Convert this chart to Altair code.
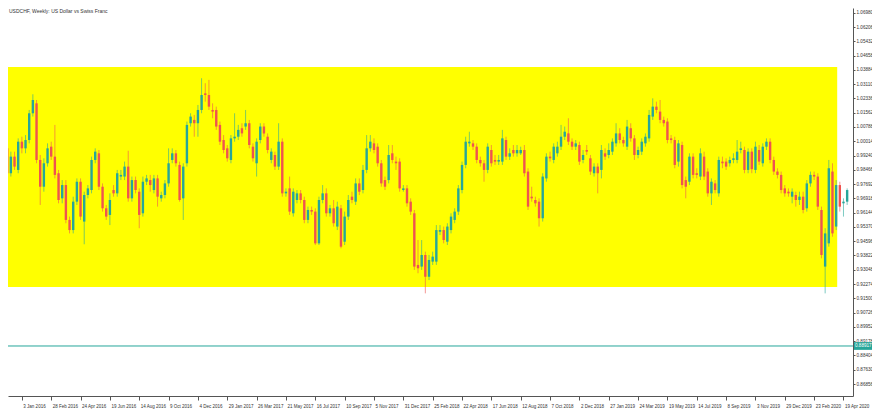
import altair as alt
import pandas as pd

# ---------------- data (weekly USDCHF candles) ----------------
FIRST_WEEK = "2015-12-06"

OPEN = [0.9963,0.9828,0.9918,0.9846,0.9999,0.9963,1.0008,1.0153,1.0207,0.9900,
        0.9755,0.9882,0.9972,0.9918,0.9828,0.9692,0.9764,0.9575,0.9520,0.9674,
        0.9782,0.9566,0.9710,0.9737,0.9900,0.9936,0.9755,0.9638,0.9602,0.9737,
        0.9719,0.9810,0.9810,0.9864,0.9692,0.9791,0.9728,0.9611,0.9782,0.9791,
        0.9737,0.9800,0.9692,0.9710,0.9773,0.9900,0.9936,0.9873,0.9692,0.9882,
        1.0099,1.0117,1.0099,1.0171,1.0261,1.0252,1.0171,1.0171,1.0090,1.0008,
        0.9963,0.9900,1.0017,1.0026,1.0072,1.0081,1.0099,0.9972,0.9882,1.0008,
        1.0081,1.0026,0.9900,0.9927,0.9864,0.9999,0.9719,0.9746,0.9611,0.9683,
        0.9719,0.9683,0.9575,0.9629,0.9620,0.9448,0.9683,0.9719,0.9611,0.9638,
        0.9539,0.9638,0.9457,0.9593,0.9701,0.9674,0.9773,0.9737,0.9846,0.9963,
        0.9990,0.9972,0.9882,0.9791,0.9791,0.9936,0.9891,0.9891,0.9737,0.9746,
        0.9674,0.9611,0.9331,0.9322,0.9385,0.9267,0.9349,0.9349,0.9511,0.9520,
        0.9457,0.9520,0.9575,0.9620,0.9737,0.9873,0.9990,0.9990,0.9972,0.9900,
        0.9882,0.9846,0.9954,0.9900,0.9891,0.9891,1.0008,0.9918,0.9954,0.9936,
        0.9936,0.9954,0.9837,0.9701,0.9683,0.9674,0.9584,0.9800,0.9918,0.9900,
        0.9936,0.9972,1.0026,1.0044,0.9999,0.9972,0.9981,0.9900,0.9954,0.9909,
        0.9828,0.9864,0.9846,0.9936,0.9927,0.9945,0.9990,1.0044,1.0008,0.9972,
        1.0072,1.0017,0.9927,0.9945,0.9990,1.0017,1.0135,1.0189,1.0162,1.0117,
        1.0108,1.0017,1.0008,0.9891,0.9981,0.9791,0.9782,0.9918,0.9828,0.9810,
        0.9918,0.9837,0.9719,0.9773,0.9719,0.9891,0.9891,0.9882,0.9900,0.9900,
        0.9954,0.9954,0.9846,0.9945,0.9846,0.9954,0.9882,0.9972,0.9999,0.9900,
        0.9837,0.9819,0.9746,0.9728,0.9701,0.9710,0.9683,0.9701,0.9638,0.9773,
        0.9819,0.9810,0.9629,0.9322,0.9448,0.9837,0.9539,0.9764,0.9665,0.9674]

HIGH = [0.9981,0.9945,0.9945,1.0017,1.0026,1.0035,1.0171,1.0256,1.0225,0.9927,
        0.9909,0.9990,0.9999,1.0090,0.9846,0.9791,0.9791,0.9593,0.9701,0.9800,
        0.9800,0.9728,0.9764,0.9918,0.9963,0.9954,0.9773,0.9656,0.9719,0.9764,
        0.9846,0.9846,0.9891,0.9950,0.9810,0.9810,0.9746,0.9810,0.9819,0.9819,
        0.9819,0.9819,0.9728,0.9791,0.9963,0.9963,0.9954,0.9891,0.9882,1.0108,
        1.0153,1.0144,1.0198,1.0343,1.0316,1.0334,1.0207,1.0189,1.0108,1.0035,
        0.9981,1.0035,1.0153,1.0090,1.0099,1.0171,1.0117,0.9990,1.0017,1.0099,
        1.0099,1.0044,0.9963,0.9945,1.0099,1.0017,0.9746,0.9810,0.9746,0.9737,
        0.9737,0.9701,0.9647,0.9647,0.9638,0.9701,0.9764,0.9746,0.9656,0.9683,
        0.9674,0.9656,0.9620,0.9710,0.9728,0.9800,0.9800,0.9873,1.0035,1.0035,
        1.0017,0.9990,0.9900,0.9810,0.9981,0.9981,0.9918,0.9909,0.9764,0.9764,
        0.9692,0.9629,0.9466,0.9466,0.9403,0.9385,0.9403,0.9547,0.9547,0.9539,
        0.9557,0.9611,0.9638,0.9764,0.9891,1.0026,1.0053,1.0008,0.9990,0.9918,
        0.9900,0.9990,0.9981,0.9927,0.9927,1.0063,1.0026,0.9963,0.9981,0.9981,
        0.9972,0.9981,0.9855,0.9755,0.9701,0.9692,0.9828,0.9936,0.9945,0.9990,
        0.9999,1.0090,1.0081,1.0126,1.0017,1.0008,0.9999,0.9954,0.9981,0.9927,
        0.9882,0.9882,0.9981,0.9963,0.9990,1.0017,1.0099,1.0072,1.0026,1.0117,
        1.0099,1.0035,0.9972,1.0017,1.0044,1.0171,1.0234,1.0216,1.0225,1.0135,
        1.0126,1.0035,1.0026,1.0008,0.9999,0.9810,0.9936,0.9936,0.9855,0.9963,
        0.9945,0.9855,0.9800,0.9791,0.9918,0.9918,0.9909,0.9918,0.9936,1.0008,
        0.9999,0.9972,0.9963,0.9963,0.9999,0.9981,0.9990,1.0017,1.0017,0.9918,
        0.9855,0.9837,0.9764,0.9746,0.9746,0.9728,0.9728,0.9728,0.9791,0.9837,
        0.9837,0.9828,0.9647,0.9530,0.9900,0.9882,0.9791,0.9782,0.9692,0.9746]

LOW = [0.9810,0.9810,0.9846,0.9828,0.9936,0.9936,0.9990,1.0135,0.9882,0.9656,
       0.9728,0.9864,0.9900,0.9800,0.9665,0.9665,0.9557,0.9502,0.9502,0.9656,
       0.9575,0.9443,0.9692,0.9719,0.9882,0.9737,0.9620,0.9575,0.9547,0.9701,
       0.9701,0.9791,0.9791,0.9674,0.9674,0.9719,0.9530,0.9593,0.9764,0.9728,
       0.9719,0.9647,0.9674,0.9692,0.9755,0.9882,0.9864,0.9674,0.9575,0.9864,
       1.0081,1.0026,1.0026,1.0153,1.0216,1.0171,1.0126,1.0063,0.9981,0.9936,
       0.9891,0.9882,0.9999,1.0008,1.0026,1.0063,0.9963,0.9891,0.9810,0.9990,
       1.0026,0.9936,0.9882,0.9846,0.9846,0.9701,0.9701,0.9602,0.9593,0.9665,
       0.9665,0.9557,0.9557,0.9602,0.9439,0.9439,0.9665,0.9593,0.9593,0.9539,
       0.9520,0.9421,0.9439,0.9575,0.9665,0.9656,0.9710,0.9719,0.9828,0.9945,
       0.9936,0.9864,0.9755,0.9737,0.9773,0.9882,0.9846,0.9728,0.9728,0.9647,
       0.9602,0.9304,0.9286,0.9304,0.9177,0.9249,0.9331,0.9331,0.9493,0.9448,
       0.9439,0.9502,0.9557,0.9602,0.9719,0.9855,0.9972,0.9954,0.9882,0.9864,
       0.9782,0.9828,0.9864,0.9873,0.9873,0.9873,0.9900,0.9900,0.9918,0.9918,
       0.9927,0.9810,0.9629,0.9674,0.9647,0.9539,0.9566,0.9782,0.9891,0.9882,
       0.9918,0.9954,1.0008,0.9981,0.9954,0.9954,0.9873,0.9882,0.9927,0.9819,
       0.9810,0.9719,0.9800,0.9900,0.9909,0.9927,0.9972,0.9990,0.9972,0.9954,
       0.9999,0.9900,0.9909,0.9927,0.9972,0.9999,1.0117,1.0153,1.0099,1.0081,
       0.9990,0.9990,0.9855,0.9864,0.9746,0.9692,0.9764,0.9800,0.9800,0.9791,
       0.9791,0.9701,0.9656,0.9719,0.9701,0.9855,0.9846,0.9864,0.9882,0.9882,
       0.9936,0.9828,0.9828,0.9828,0.9828,0.9873,0.9864,0.9954,0.9882,0.9819,
       0.9800,0.9719,0.9701,0.9701,0.9665,0.9647,0.9656,0.9611,0.9620,0.9755,
       0.9791,0.9629,0.9367,0.9177,0.9430,0.9484,0.9520,0.9620,0.9593,0.9656]

CLOSE = [0.9828,0.9918,0.9864,0.9999,0.9963,1.0008,1.0153,1.0225,0.9900,0.9755,
         0.9882,0.9963,0.9918,0.9819,0.9683,0.9764,0.9575,0.9520,0.9674,0.9782,
         0.9593,0.9710,0.9746,0.9900,0.9945,0.9755,0.9638,0.9593,0.9683,0.9719,
         0.9828,0.9819,0.9864,0.9692,0.9791,0.9737,0.9602,0.9782,0.9800,0.9764,
         0.9800,0.9701,0.9710,0.9773,0.9882,0.9936,0.9882,0.9683,0.9864,1.0090,
         1.0135,1.0099,1.0171,1.0252,1.0252,1.0189,1.0162,1.0081,0.9999,0.9954,
         0.9909,1.0017,1.0026,1.0063,1.0044,1.0099,0.9981,0.9909,0.9999,1.0081,
         1.0044,0.9954,0.9945,0.9864,0.9999,0.9719,0.9728,0.9620,0.9728,0.9719,
         0.9683,0.9575,0.9629,0.9620,0.9448,0.9683,0.9719,0.9611,0.9638,0.9557,
         0.9647,0.9430,0.9593,0.9683,0.9683,0.9773,0.9728,0.9846,0.9963,0.9999,
         0.9954,0.9882,0.9773,0.9755,0.9927,0.9900,0.9882,0.9746,0.9746,0.9665,
         0.9620,0.9322,0.9313,0.9385,0.9267,0.9358,0.9376,0.9520,0.9520,0.9466,
         0.9539,0.9593,0.9620,0.9746,0.9873,0.9999,0.9999,0.9972,0.9900,0.9882,
         0.9846,0.9972,0.9882,0.9891,0.9900,1.0017,0.9918,0.9936,0.9936,0.9954,
         0.9954,0.9828,0.9647,0.9692,0.9665,0.9584,0.9810,0.9918,0.9909,0.9972,
         0.9972,1.0026,1.0053,0.9999,0.9972,0.9990,0.9891,0.9927,0.9945,0.9837,
         0.9864,0.9828,0.9954,0.9918,0.9954,0.9999,1.0044,1.0008,0.9990,1.0081,
         1.0017,0.9927,0.9954,0.9999,1.0026,1.0144,1.0189,1.0171,1.0117,1.0099,
         1.0008,1.0008,0.9873,0.9990,0.9764,0.9755,0.9918,0.9819,0.9819,0.9936,
         0.9810,0.9719,0.9782,0.9737,0.9900,0.9882,0.9864,0.9900,0.9909,0.9945,
         0.9963,0.9846,0.9945,0.9850,0.9972,0.9891,0.9972,0.9999,0.9900,0.9837,
         0.9819,0.9737,0.9719,0.9719,0.9728,0.9683,0.9701,0.9629,0.9773,0.9819,
         0.9810,0.9647,0.9385,0.9502,0.9855,0.9502,0.9764,0.9647,0.9674,0.9737]

# date tick labels (every 8 weeks) and price tick labels
X_TICKS = ["2016-01-03","2016-02-28","2016-04-24","2016-06-19","2016-08-14","2016-10-09",
           "2016-12-04","2017-01-29","2017-03-26","2017-05-21","2017-07-16","2017-09-10",
           "2017-11-05","2017-12-31","2018-02-25","2018-04-22","2018-06-17","2018-08-12",
           "2018-10-07","2018-12-02","2019-01-27","2019-03-24","2019-05-19","2019-07-14",
           "2019-09-08","2019-11-03","2019-12-29","2020-02-23","2020-04-19"]
Y_TICKS = [1.06980,1.06206,1.05432,1.04658,1.03884,1.03110,1.02336,1.01562,1.00788,
           1.00014,0.99240,0.98466,0.97692,0.96918,0.96144,0.95370,0.94596,0.93822,
           0.93048,0.92274,0.91500,0.90726,0.89952,0.89178,0.88404,0.87630,0.86856]

# yellow rectangle object and horizontal line object
RECT_TIME = ["2015-12-07", "2020-04-07"]
RECT_PRICE = [1.0404, 0.9211]
HLINE_PRICE = 0.88917
TITLE = "USDCHF, Weekly: US Dollar vs Swiss Franc"

# ---------------- styling ----------------
UP, DOWN = "#26a69a", "#ef5350"
W, H = 845, 388
FONT = "Liberation Sans"

dates = pd.date_range(FIRST_WEEK, periods=len(OPEN), freq="7D").strftime("%Y-%m-%d")
df = pd.DataFrame({"date": dates, "open": OPEN, "high": HIGH, "low": LOW, "close": CLOSE})
df["dir"] = ["up" if c >= o else "down" for o, c in zip(df.open, df.close)]

tick_ms = [int(pd.Timestamp(d, tz="UTC").value // 10**6) for d in X_TICKS]

xscale = alt.Scale(type="utc", nice=False,
                   domain=[alt.DateTime(year=2015, month=12, date=17, hours=2, utc=True),
                           alt.DateTime(year=2020, month=4, date=27, hours=15, utc=True)])
yscale = alt.Scale(domain=[0.86207, 1.07236], zero=False, nice=False)
color = alt.Color("dir:N", scale=alt.Scale(domain=["up", "down"], range=[UP, DOWN]), legend=None)

xaxis = alt.Axis(values=tick_ms, format="%-d %b %Y", labelAlign="left", labelOffset=1,
                 labelFontSize=4.5, labelFont=FONT, labelColor="#333", tickSize=4,
                 labelPadding=3, title=None, labelOverlap=False, labelFlush=False,
                 labelBound=False, domainColor="#555", tickColor="#555", grid=False)
yaxis = alt.Axis(orient="right", values=Y_TICKS, format=".5f", labelFontSize=4.6,
                 labelFont=FONT, labelColor="#333", tickSize=2, labelPadding=1,
                 title=None, grid=False, domainColor="#555", tickColor="#555",
                 labelOverlap=False, labelFlush=False)

rect_df = pd.DataFrame({"t1": [RECT_TIME[0]], "t2": [RECT_TIME[1]],
                        "p1": [RECT_PRICE[0]], "p2": [RECT_PRICE[1]]})
rect = alt.Chart(rect_df).mark_rect(color="#ffff00", clip=True).encode(
    x=alt.X("t1:T", scale=xscale, axis=xaxis), x2="t2:T",
    y=alt.Y("p1:Q", scale=yscale, axis=yaxis), y2="p2:Q")

base = alt.Chart(df).encode(x=alt.X("date:T", scale=xscale, axis=xaxis), color=color)
wicks = base.mark_rule(strokeWidth=1, opacity=0.6, clip=True).encode(
    y=alt.Y("low:Q", scale=yscale, axis=yaxis), y2="high:Q")
bodies = base.mark_bar(size=2.4, clip=True).encode(
    y=alt.Y("open:Q", scale=yscale, axis=yaxis), y2="close:Q")

hl_df = pd.DataFrame({"p": [HLINE_PRICE], "p_hi": [HLINE_PRICE + 0.0021],
                      "p_lo": [HLINE_PRICE - 0.0021],
                      "label": [f"{HLINE_PRICE:.5f}"]})
hline = alt.Chart(hl_df).mark_rule(color=UP, strokeWidth=1).encode(
    y=alt.Y("p:Q", scale=yscale, axis=yaxis), x=alt.value(0), x2=alt.value(W))
hbox = alt.Chart(hl_df).mark_rect(color=UP).encode(
    y=alt.Y("p_hi:Q", scale=yscale, axis=yaxis), y2="p_lo:Q",
    x=alt.value(W + 1), x2=alt.value(W + 19))
htext = alt.Chart(hl_df).mark_text(align="left", baseline="middle", fontSize=4.6,
                                   font=FONT, color="white").encode(
    y=alt.Y("p:Q", scale=yscale, axis=yaxis), x=alt.value(W + 2), text="label:N")

title = alt.Chart(pd.DataFrame({"t": [TITLE]})).mark_text(
    align="left", baseline="top", fontSize=5, font=FONT, color="#333").encode(
    x=alt.value(1), y=alt.value(1), text="t:N")

chart = alt.layer(rect, wicks, bodies, hline, hbox, htext, title).properties(
    width=W, height=H, background="white",
    autosize=alt.AutoSizeParams(type="none"),
    padding={"left": 0, "top": 0, "right": 19, "bottom": 16}
).configure_view(stroke=None)

chart.save("out.html", embed_options={"renderer": "svg", "actions": False})
